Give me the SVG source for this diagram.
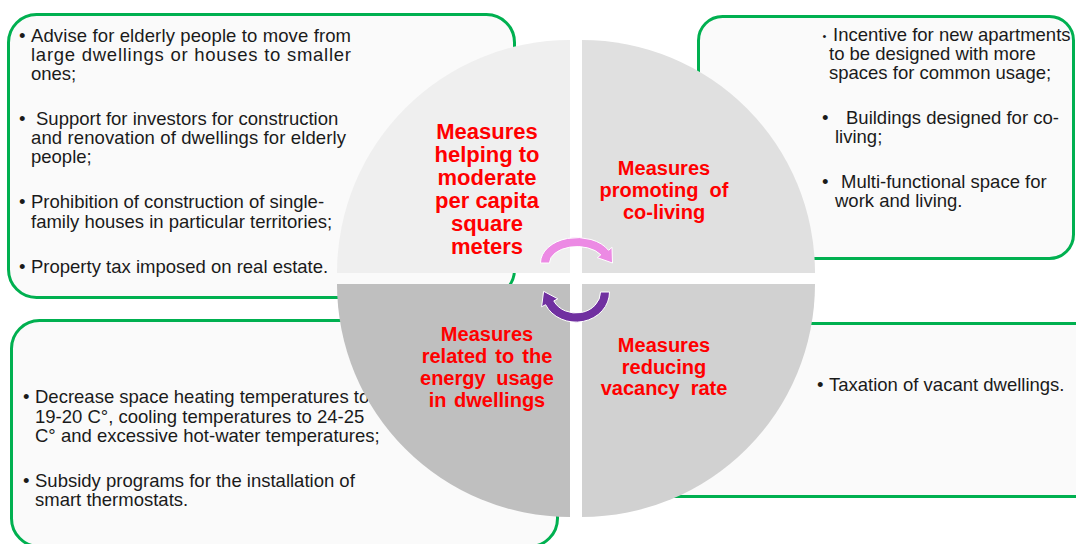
<svg xmlns="http://www.w3.org/2000/svg" width="1076" height="544" viewBox="0 0 1076 544">
<style>
.box{fill:#fafafa;stroke:#00b050;stroke-width:3}
.txt{font-family:"Liberation Sans",Arial,sans-serif;font-size:18.5px;fill:#1a1a1a}
.sm{font-size:11px}
.lbl{font-family:"Liberation Sans",Arial,sans-serif;font-weight:bold;fill:#ff0000;text-anchor:middle}
.l22{font-size:22px}
.l20{font-size:20px}
.arr{stroke:#ffffff;stroke-width:1}
</style>
<rect width="1076" height="544" fill="#ffffff"/>

<!-- Policy boxes (drawn first, the circle sits on top) -->
<g id="box-per-capita">
<rect class="box" x="8.5" y="14.5" width="506" height="283" rx="28"/>
<text class="txt" x="19" y="41.5">•</text>
<text class="txt" x="31" y="41.5" textLength="320" lengthAdjust="spacing">Advise for elderly people to move from</text>
<text class="txt" x="31" y="61" textLength="320" lengthAdjust="spacing">large dwellings or houses to smaller</text>
<text class="txt" x="31" y="80">ones;</text>
<text class="txt" x="19" y="125">•</text>
<text class="txt" x="36" y="125">Support for investors for construction</text>
<text class="txt" x="31" y="144" textLength="315" lengthAdjust="spacing">and renovation of dwellings for elderly</text>
<text class="txt" x="31" y="163">people;</text>
<text class="txt" x="19" y="208">•</text>
<text class="txt" x="31" y="208">Prohibition of construction of single-</text>
<text class="txt" x="31" y="228">family houses in particular territories;</text>
<text class="txt" x="19" y="273">•</text>
<text class="txt" x="31" y="273">Property tax imposed on real estate.</text>
</g>

<g id="box-co-living">
<rect class="box" x="698.5" y="16.5" width="375" height="242" rx="24"/>
<text class="txt sm" x="822.5" y="39.5">•</text>
<text class="txt" x="833" y="41">Incentive for new apartments</text>
<text class="txt" x="829" y="60">to be designed with more</text>
<text class="txt" x="829" y="79">spaces for common usage;</text>
<text class="txt" x="822" y="124">•</text>
<text class="txt" x="846" y="124">Buildings designed for co-</text>
<text class="txt" x="835" y="143">living;</text>
<text class="txt" x="822" y="188">•</text>
<text class="txt" x="841" y="188">Multi-functional space for</text>
<text class="txt" x="835" y="207">work and living.</text>
</g>

<g id="box-energy">
<rect class="box" x="11.5" y="320.5" width="546" height="226" rx="28"/>
<text class="txt" x="23" y="403">•</text>
<text class="txt" x="35" y="403">Decrease space heating temperatures to</text>
<text class="txt" x="35" y="422.5">19-20 C°, cooling temperatures to 24-25</text>
<text class="txt" x="35" y="442">C° and excessive hot-water temperatures;</text>
<text class="txt" x="23" y="486.5">•</text>
<text class="txt" x="35" y="486.5">Subsidy programs for the installation of</text>
<text class="txt" x="35" y="506">smart thermostats.</text>
</g>

<g id="box-vacancy">
<rect class="box" x="640" y="323.5" width="460" height="173" rx="24"/>
<text class="txt" x="817" y="391">•</text>
<text class="txt" x="829" y="391">Taxation of vacant dwellings.</text>
</g>

<!-- Four quarter-disc segments with a white cross gap -->
<g id="q-per-capita">
<path d="M570 273 L337 273 A233 233 0 0 1 570 40 Z" fill="#efefef"/>
<text class="lbl l22" x="487" y="139">Measures</text>
<text class="lbl l22" x="487" y="162">helping to</text>
<text class="lbl l22" x="487" y="185">moderate</text>
<text class="lbl l22" x="487" y="208">per capita</text>
<text class="lbl l22" x="487" y="231">square</text>
<text class="lbl l22" x="487" y="254">meters</text>
</g>

<g id="q-co-living">
<path d="M582 273 L582 40 A233 233 0 0 1 815 273 Z" fill="#e0e0e0"/>
<text class="lbl l20" x="664" y="175">Measures</text>
<text class="lbl l20" x="664" y="197" word-spacing="5.5">promoting of</text>
<text class="lbl l20" x="664" y="218.5">co-living</text>
</g>

<g id="q-vacancy">
<path d="M582 284 L815 284 A233 233 0 0 1 582 517 Z" fill="#d1d1d1"/>
<text class="lbl l20" x="664" y="352">Measures</text>
<text class="lbl l20" x="664" y="373.5">reducing</text>
<text class="lbl l20" x="664" y="395" word-spacing="5.5">vacancy rate</text>
</g>

<g id="q-energy">
<path d="M570 284 L570 517 A233 233 0 0 1 337 284 Z" fill="#bfbfbf"/>
<text class="lbl l20" x="487" y="341">Measures</text>
<text class="lbl l20" x="487" y="363" word-spacing="2.5">related to the</text>
<text class="lbl l20" x="487" y="385" word-spacing="5">energy usage</text>
<text class="lbl l20" x="487" y="407" word-spacing="2">in dwellings</text>
</g>

<!-- Circular arrows linking the segments -->
<g id="connectors">
<path class="arr" fill="#ec8ae4" d="M540.5 263 A36.5 25.5 0 0 1 608.6 250.3 L612 247.3 L612.5 263 L597.4 257.7 L600.8 254.8 A27.5 16.5 0 0 0 549.5 263 Z"/>
<path class="arr" fill="#7030a0" d="M609.5 292 A33.5 30 0 0 1 545.6 304.7 L541.6 306.8 L543.6 291.3 L557.8 298.8 L553.8 300.9 A24.5 21 0 0 0 600.5 292 Z"/>
</g>
</svg>
